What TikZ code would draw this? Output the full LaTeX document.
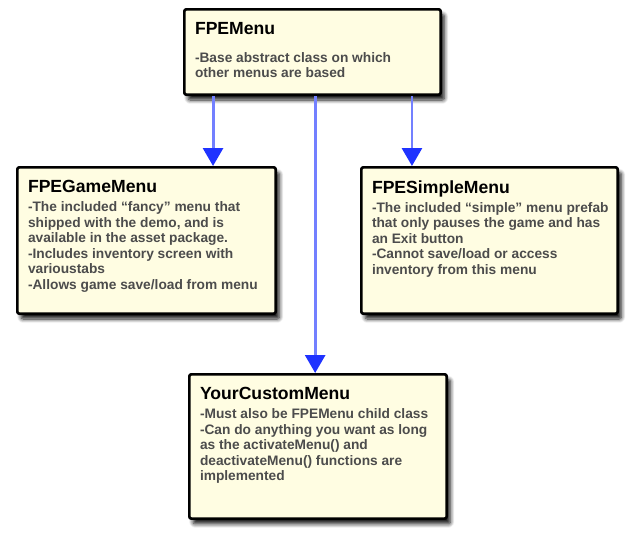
\documentclass[tikz,border=0pt]{standalone}
\usepackage{fontspec}
\setmainfont{Liberation Sans}
\usetikzlibrary{arrows.meta,shadows.blur}
\definecolor{boxfill}{rgb}{1.,0.992,0.886}
\definecolor{bodygray}{rgb}{0.3,0.3,0.3}
\definecolor{flowblue}{rgb}{0.45,0.5,1.}
\definecolor{tipblue}{rgb}{0.12,0.2,1.}
\newcommand{\titlefont}{\fontsize{13.2}{15}\selectfont\bfseries}
\newcommand{\bodyfont}{\fontsize{10.3}{11.6}\selectfont\bfseries\color{bodygray}}

\begin{document}
\begin{tikzpicture}[line cap=round,line join=round,x=0.75pt,y=-0.75pt,
  menubox/.style={draw=black,line width=2pt,fill=boxfill,rounded corners=1.5pt,
    inner xsep=8pt,inner ysep=9.8pt,anchor=north west,
    blur shadow={shadow xshift=2.8pt,shadow yshift=-4pt,shadow blur radius=3pt,shadow blur steps=8,
      shadow opacity=90}},
  flow/.style={draw=flowblue,line width=2.2pt,line cap=butt,-{Triangle[length=13.5pt,width=15pt,color=tipblue]}}]
\useasboundingbox (0,0) rectangle (636,539);
% class boxes
\node[menubox] (menu) at (183,8) {\parbox[t][44.4pt][t]{176.25pt}{\titlefont FPEMenu\par\vspace{9.4pt}\bodyfont
\begin{tabular}[t]{@{}l@{}}
-Base abstract class on which\\
other menus are based
\end{tabular}}};
\node[menubox] (game) at (16,166) {\parbox[t][90.15pt][t]{177.75pt}{\titlefont FPEGameMenu\par\vspace{2.65pt}\bodyfont
\begin{tabular}[t]{@{}l@{}}
-The included “fancy” menu that\\
shipped with the demo, and is\\
available in the asset package.\\
-Includes inventory screen with\\
varioustabs\\
-Allows game save/load from menu
\end{tabular}}};
\node[menubox] (simple) at (360,166) {\parbox[t][90.15pt][t]{176.25pt}{\titlefont FPESimpleMenu\par\vspace{2.65pt}\bodyfont
\begin{tabular}[t]{@{}l@{}}
-The included “simple” menu prefab\\
that only pauses the game and has\\
an Exit button\\
-Cannot save/load or access\\
inventory from this menu
\end{tabular}}};
\node[menubox] (custom) at (188,373) {\parbox[t][88.6pt][t]{177pt}{\titlefont YourCustomMenu\par\vspace{2.65pt}\bodyfont
\begin{tabular}[t]{@{}l@{}}
-Must also be FPEMenu child class\\
-Can do anything you want as long\\
as the activateMenu() and\\
deactivateMenu() functions are\\
implemented
\end{tabular}}};
% inheritance arrows
\coordinate (m1) at ([xshift=-74.6pt]menu.south);
\coordinate (m2) at ([xshift=2pt]menu.south);
\coordinate (m3) at ([xshift=74.6pt]menu.south);
\draw[flow] (m1) -- (m1 |- game.north);
\draw[flow] (m2) -- (m2 |- custom.north);
\draw[flow] (m3) -- (m3 |- simple.north);
\end{tikzpicture}
\end{document}
